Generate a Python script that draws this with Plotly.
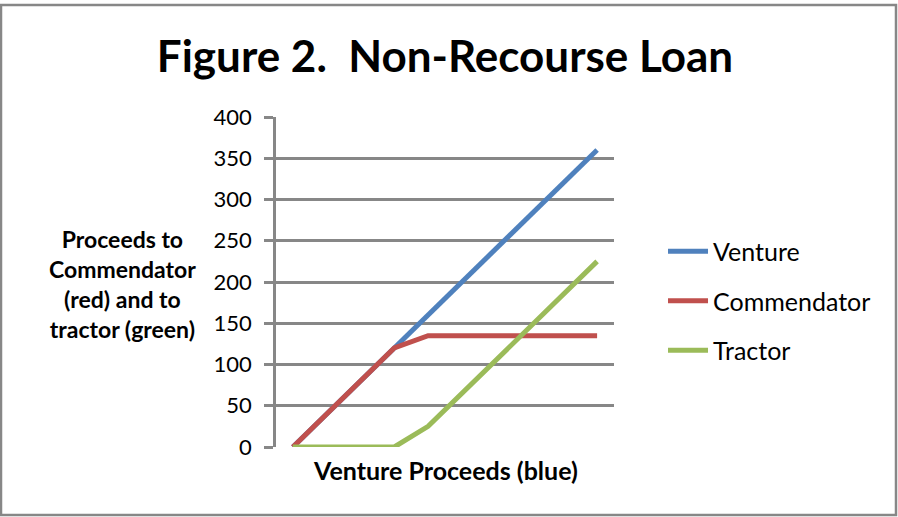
import plotly.graph_objects as go

categories = [str(i) for i in range(1, 11)]
venture = [0, 40, 80, 120, 160, 200, 240, 280, 320, 360]
commendator = [0, 40, 80, 120, 135, 135, 135, 135, 135, 135]
tractor = [0, 0, 0, 0, 25, 65, 105, 145, 185, 225]
y_ticks = [0, 50, 100, 150, 200, 250, 300, 350, 400]

FONT = "Lato"
series = [("Venture", venture, "#4F81BD"),
          ("Commendator", commendator, "#C0504D"),
          ("Tractor", tractor, "#9BBB59")]

fig = go.Figure()
for name, vals, col in series:
    fig.add_trace(go.Scatter(x=categories, y=vals, mode="lines", name=name,
                             legendgroup=name,
                             line=dict(color=col, width=5)))

L, R, T, B = 276, 284, 117, 70
pw = 898 - L - R
ph = 517 - T - B

fig.update_layout(
    width=898, height=517,
    margin=dict(l=L, r=R, t=T, b=B),
    paper_bgcolor="white", plot_bgcolor="white",
    font=dict(family=FONT, color="black"),
    title=dict(text="<b>Figure 2.  Non-Recourse Loan</b>", x=0.5, xanchor="center",
               xref="paper", y=0.89, yanchor="middle",
               font=dict(size=44, family=FONT, color="black")),
    showlegend=True,
    legend=dict(x=1.145, xanchor="left", y=(447 - 301) / ph, yanchor="middle",
                font=dict(size=25, family=FONT), tracegroupgap=14,
                itemwidth=40, bgcolor="rgba(0,0,0,0)"),
    xaxis=dict(type="category", range=[-0.5, 9.5], showticklabels=False,
               showgrid=False, zeroline=False, showline=False, ticks=""),
    yaxis=dict(range=[0, 400], tickvals=y_ticks, showgrid=True,
               gridcolor="#878787", gridwidth=2.5, zeroline=False,
               showline=True, linecolor="#878787", linewidth=2.5,
               ticks="outside", ticklen=9, tickwidth=2.5, tickcolor="#878787",
               ticklabelstandoff=8,
               tickfont=dict(size=22, family=FONT, color="black")),
)

fig.add_annotation(text="<b>Venture Proceeds (blue)</b>", xref="paper", yref="paper",
                   x=0.5, y=(447 - 470) / ph, xanchor="center", yanchor="middle",
                   showarrow=False, font=dict(size=25, family=FONT, color="black"))
fig.add_annotation(text="<b>Proceeds to<br>Commendator<br>(red) and to<br>tractor (green)</b>",
                   xref="paper", yref="paper", x=(122 - L) / pw, y=(447 - 284) / ph,
                   xanchor="center", yanchor="middle", showarrow=False, align="center",
                   font=dict(size=23, family=FONT, color="black"))
# outer chart frame
fig.add_shape(type="rect", xref="paper", yref="paper",
              x0=(1 - L) / pw, x1=(896 - L) / pw,
              y0=(517 - B - 515) / ph, y1=(517 - B - 5) / ph,
              line=dict(color="#878787", width=2.5), fillcolor="rgba(0,0,0,0)",
              layer="below")

fig.write_html("out.html")
